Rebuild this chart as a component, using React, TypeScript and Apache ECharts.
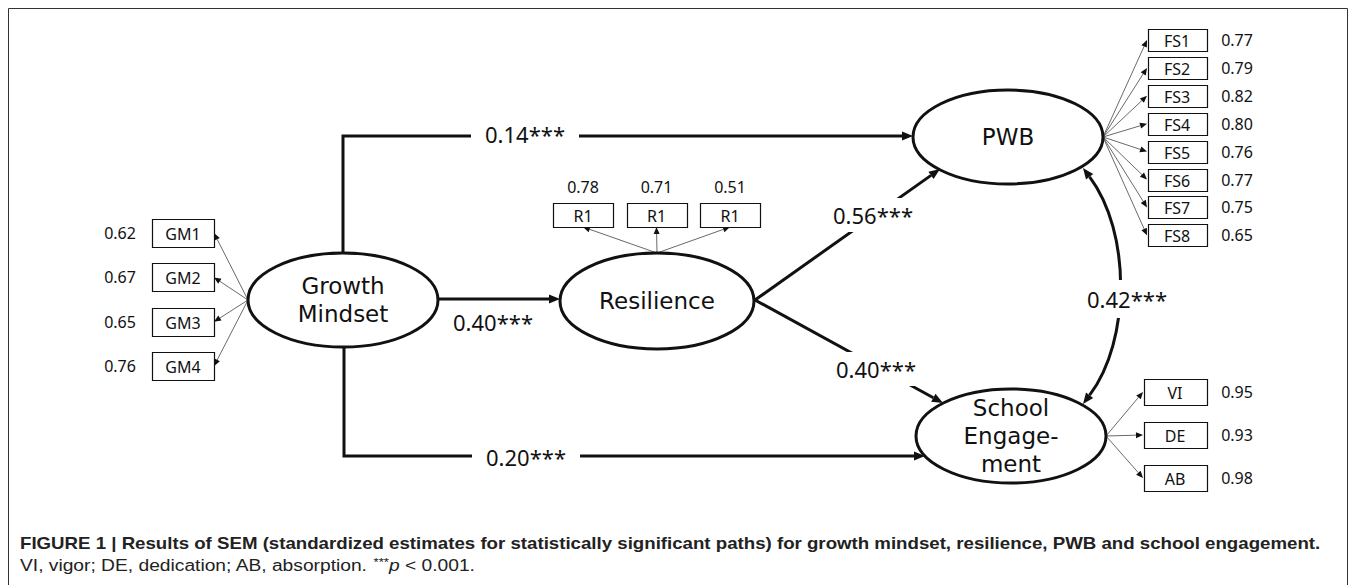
import React, { useEffect, useRef } from "react";
import * as echarts from "echarts";

// ---------- data ----------
const gmItems = ["GM1", "GM2", "GM3", "GM4"];
const gmLoadings = ["0.62", "0.67", "0.65", "0.76"];
const rItems = ["R1", "R1", "R1"];
const rLoadings = ["0.78", "0.71", "0.51"];
const fsItems = ["FS1", "FS2", "FS3", "FS4", "FS5", "FS6", "FS7", "FS8"];
const fsLoadings = ["0.77", "0.79", "0.82", "0.80", "0.76", "0.77", "0.75", "0.65"];
const seItems = ["VI", "DE", "AB"];
const seLoadings = ["0.95", "0.93", "0.98"];
const latentNames = [["Growth", "Mindset"], ["Resilience"], ["PWB"], ["School", "Engage-", "ment"]];
// paths: GM->PWB, GM->Res, Res->PWB, Res->SE, GM->SE, PWB<->SE
const pathCoefs = ["0.14***", "0.40***", "0.56***", "0.40***", "0.20***", "0.42***"];
const captionTitle =
  "FIGURE 1 | Results of SEM (standardized estimates for statistically significant paths) for growth mindset, resilience, PWB and school engagement.";
const captionNote = ["VI, vigor; DE, dedication; AB, absorption. ", "***", "p", " < 0.001."];

// ---------- layout ----------
const FONT = '"Noto Sans", "Open Sans", sans-serif';
const LATENT_FONT = '"DejaVu Sans", sans-serif';
const INK = "#111";
const THIN = "#6a6a6a";

function head(tx: number, ty: number, fx: number, fy: number, len: number, wid: number) {
  const dx = tx - fx, dy = ty - fy;
  const d = Math.hypot(dx, dy);
  const ux = dx / d, uy = dy / d;
  const bx = tx - ux * len, by = ty - uy * len;
  const px = (-uy * wid) / 2, py = (ux * wid) / 2;
  return {
    el: {
      type: "polygon",
      shape: { points: [[tx, ty], [bx + px, by + py], [bx - px, by - py]] },
      style: { fill: INK },
    },
    bx, by,
  };
}

function arrow(x1: number, y1: number, x2: number, y2: number, thick: boolean): any[] {
  const h = thick ? head(x2, y2, x1, y1, 11, 9) : head(x2, y2, x1, y1, 7, 6);
  return [
    {
      type: "line",
      shape: { x1, y1, x2: h.bx, y2: h.by },
      style: { stroke: thick ? INK : THIN, lineWidth: thick ? 3 : 1 },
    },
    h.el,
  ];
}

function elbow(pts: number[][]): any[] {
  const n = pts.length;
  const last = pts[n - 1], prev = pts[n - 2];
  const h = head(last[0], last[1], prev[0], prev[1], 11, 9);
  const linePts = pts.slice(0, n - 1).concat([[h.bx, h.by]]);
  return [
    { type: "polyline", shape: { points: linePts }, style: { stroke: INK, lineWidth: 3, fill: "none", lineJoin: "miter" } },
    h.el,
  ];
}

function txt(x: number, y: number, text: string, size: number, extra: any = {}, family: string = FONT) {
  return {
    type: "text",
    x, y,
    z: 10,
    style: {
      text, fill: INK, font: `${size}px ${family}`,
      align: "center", verticalAlign: "middle",
      textAlign: "center", textVerticalAlign: "middle",
      ...extra,
    },
  };
}

function box(cx: number, cy: number, w: number, h: number, label: string) {
  return [
    {
      type: "rect",
      shape: { x: Math.round(cx - w / 2) + 0.5, y: Math.round(cy - h / 2) + 0.5, width: w, height: h },
      style: { fill: "#fff", stroke: INK, lineWidth: 1.2 },
    },
    txt(cx, cy + 1, label, 16),
  ];
}

function ellipse(cx: number, cy: number, rx: number, ry: number, lines: string[]) {
  const step = 28;
  const out: any[] = [
    { type: "ellipse", shape: { cx, cy, rx, ry }, style: { fill: "#fff", stroke: INK, lineWidth: 3 }, z: 5 },
  ];
  lines.forEach((l, i) => {
    const y = cy + (i - (lines.length - 1) / 2) * step;
    out.push(txt(cx, y, l, 23, { lineHeight: 26 }, LATENT_FONT));
  });
  return out;
}

function measure(text: string, font: string) {
  const c = document.createElement("canvas").getContext("2d")!;
  c.font = font;
  return c.measureText(text).width;
}

export default function App() {
  const ref = useRef<HTMLDivElement>(null);
  useEffect(() => {
    const chart = echarts.init(ref.current!, null, { renderer: "svg" });
    const els: any[] = [];

    // frame
    els.push({ type: "rect", shape: { x: 8.5, y: 8.5, width: 1339, height: 640 }, style: { fill: "none", stroke: "#333", lineWidth: 1 } });

    const GM = { cx: 343, cy: 300, rx: 95, ry: 47 };
    const RS = { cx: 657, cy: 301, rx: 97, ry: 48 };
    const PW = { cx: 1008, cy: 137, rx: 95, ry: 47 };
    const SE = { cx: 1011, cy: 436, rx: 95, ry: 47 };

    // GM indicators
    gmItems.forEach((name, i) => {
      const cy = 233 + i * 44.4;
      els.push(...arrow(GM.cx - GM.rx, GM.cy, 214, cy, false));
      els.push(...box(183, cy, 62, 28, name));
      els.push(txt(120, cy, gmLoadings[i], 16));
    });

    // Resilience indicators
    rItems.forEach((name, i) => {
      const cx = 583 + i * 73.5;
      els.push(...arrow(RS.cx, RS.cy - RS.ry, cx, 227, false));
      els.push(...box(cx, 215, 60, 24, name));
      els.push(txt(cx, 187, rLoadings[i], 16));
    });

    // PWB indicators
    fsItems.forEach((name, i) => {
      const cy = 40 + i * 27.9;
      els.push(...arrow(PW.cx + PW.rx, PW.cy, 1147, cy, false));
      els.push(...box(1177, cy, 59, 22, name));
      els.push(txt(1237, cy, fsLoadings[i], 16));
    });

    // SE indicators
    seItems.forEach((name, i) => {
      const cy = 392 + i * 43;
      els.push(...arrow(SE.cx + SE.rx, SE.cy, 1143, cy, false));
      els.push(...box(1175, cy, 63, 26, name));
      els.push(txt(1237, cy, seLoadings[i], 16));
    });

    // structural paths
    // GM -> PWB
    els.push(...elbow([[343, GM.cy - GM.ry], [343, 136], [913, 136]]));
    els.push(txt(525, 134, pathCoefs[0], 22, { backgroundColor: "#fff", padding: [6, 14, 6, 14] }));
    // GM -> Res
    els.push(...arrow(GM.cx + GM.rx, 299, RS.cx - RS.rx, 299, true));
    els.push(txt(493, 322, pathCoefs[1], 22, { backgroundColor: "#fff", padding: [4, 10, 4, 10] }));
    // Res -> PWB
    els.push(...arrow(RS.cx + RS.rx + 1, 300, 940, 169, true));
    els.push(txt(873, 215, pathCoefs[2], 22, { backgroundColor: "#fff", padding: [6, 14, 6, 14] }));
    // Res -> SE
    els.push(...arrow(RS.cx + RS.rx + 1, 300, 943, 403, true));
    els.push(txt(876, 369, pathCoefs[3], 22, { backgroundColor: "#fff", padding: [6, 14, 6, 14] }));
    // GM -> SE
    els.push(...elbow([[344, GM.cy + GM.ry], [344, 456], [925, 456]]));
    els.push(txt(526, 457, pathCoefs[4], 22, { backgroundColor: "#fff", padding: [6, 14, 6, 14] }));
    // PWB <-> SE covariance
    const p0 = [1083, 168], p1 = [1131, 232], p2 = [1131, 340], p3 = [1083, 404];
    const hA = head(p0[0], p0[1], p1[0], p1[1], 11, 9);
    const hB = head(p3[0], p3[1], p2[0], p2[1], 11, 9);
    els.push({
      type: "bezierCurve",
      shape: { x1: hA.bx, y1: hA.by, cpx1: p1[0], cpy1: p1[1], cpx2: p2[0], cpy2: p2[1], x2: hB.bx, y2: hB.by },
      style: { stroke: INK, lineWidth: 3, fill: "none" },
    });
    els.push(hA.el, hB.el);
    els.push(txt(1127, 299, pathCoefs[5], 22, { backgroundColor: "#fff", padding: [8, 14, 8, 14] }));

    // latent variables
    els.push(...ellipse(GM.cx, GM.cy, GM.rx, GM.ry, latentNames[0]));
    els.push(...ellipse(RS.cx, RS.cy, RS.rx, RS.ry, latentNames[1]));
    els.push(...ellipse(PW.cx, PW.cy, PW.rx, PW.ry, latentNames[2]));
    els.push(...ellipse(SE.cx, SE.cy, SE.rx, SE.ry, latentNames[3]));

    // caption
    const capFontB = 'bold 16px "Liberation Sans", Arial, sans-serif';
    const capFont = '16px "Liberation Sans", Arial, sans-serif';
    const w1 = measure(captionTitle, capFontB);
    const w2 = measure(captionNote.join(""), capFont);
    const s1 = 1301 / w1;
    const s2 = 462 / w2;
    els.push({
      type: "group", x: 20, y: 543, scaleX: s1,
      children: [{ type: "text", x: 0, y: 0, style: { text: captionTitle, font: capFontB, fill: "#222", align: "left", verticalAlign: "middle", textAlign: "left", textVerticalAlign: "middle" } }],
    });
    els.push({
      type: "group", x: 20, y: 566, scaleX: s2,
      children: [{
        type: "text", x: 0, y: 0,
        style: {
          text: `${captionNote[0]}{sup|${captionNote[1]}}{it|${captionNote[2]}}${captionNote[3]}`,
          font: capFont, fill: "#222", align: "left", verticalAlign: "middle", textAlign: "left", textVerticalAlign: "middle",
          rich: {
            sup: { fontSize: 11, fontFamily: '"Liberation Sans", Arial', fill: "#222", padding: [0, 0, 7, 0] },
            it: { fontSize: 16, fontStyle: "italic", fontFamily: '"Liberation Sans", Arial', fill: "#222" },
          },
        },
      }],
    });

    chart.setOption({ animation: false, backgroundColor: "#fff", graphic: { elements: els } });
    return () => chart.dispose();
  }, []);
  return <div ref={ref} style={{ position: "absolute", left: 0, top: 0, width: 1357, height: 585 }} />;
}
